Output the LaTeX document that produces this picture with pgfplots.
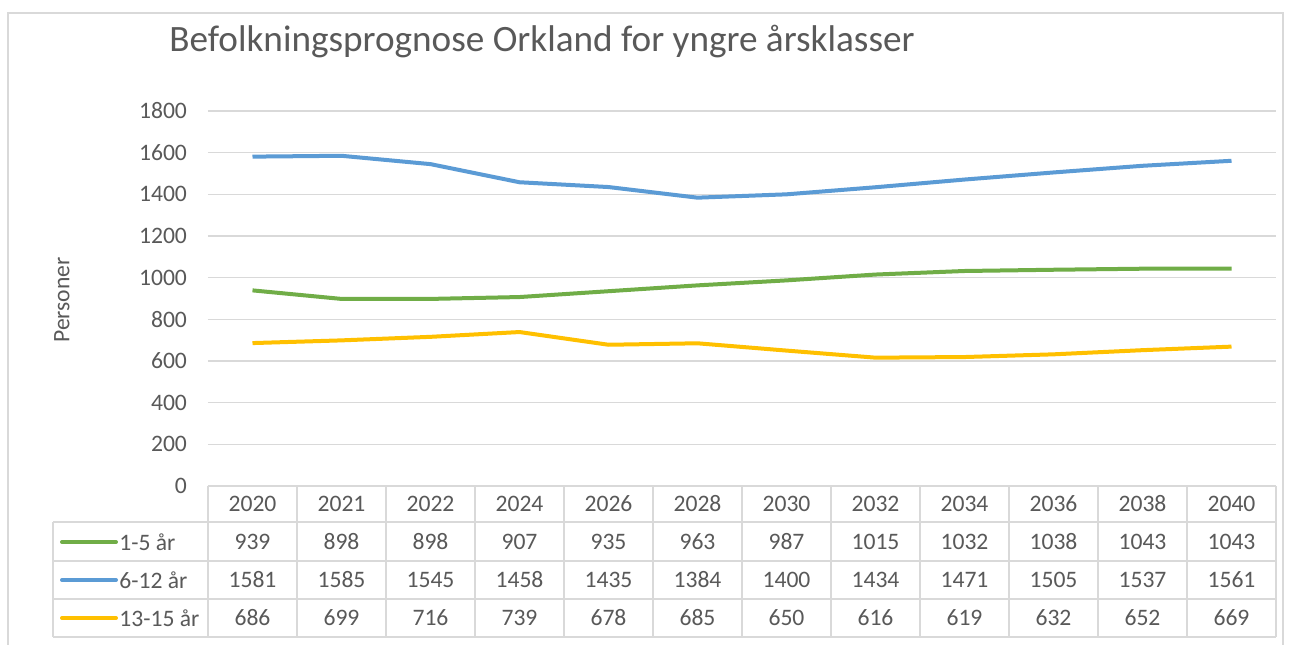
\documentclass[border=0pt]{standalone}
\usepackage{fontspec}
\setmainfont{Carlito}
\usepackage{pgfplots}
\pgfplotsset{compat=1.18}
\definecolor{cgreen}{HTML}{70AD47}
\definecolor{cblue}{HTML}{5B9BD5}
\definecolor{cyellow}{HTML}{FFC000}
\definecolor{txt}{HTML}{595959}
\definecolor{gridc}{HTML}{D9D9D9}
\definecolor{framec}{HTML}{D9D9D9}

\begin{document}
\begin{tikzpicture}[x=0.5pt,y=0.5pt]
\clip (0,0) rectangle (1292,644);
\fill[white] (0,0) rectangle (1292,644);
\draw[line width=1pt, framec] (8,631) rectangle (1283,-20);
\node[font=\fontsize{18.6}{22}\selectfont, text=txt] at (542,602) {Befolkningsprognose Orkland for yngre årsklasser};
\node[rotate=90, font=\fontsize{11.8}{14}\selectfont, text=txt] at (62,344) {Personer};

\begin{axis}[
    at={(104pt,79pt)}, anchor=south west,
    width=534pt, height=187.5pt, scale only axis,
    xmin=-0.5, xmax=11.5, ymin=0, ymax=1800,
    ytick={0,200,...,1800}, xtick=\empty,
    axis line style={draw=none},
    ymajorgrids, grid style={gridc, line width=0.75pt},
    major tick length=0pt,
    yticklabel style={font=\fontsize{11.8}{14}\selectfont, text=txt, xshift=-7pt},
    /pgf/number format/assume math mode=true,
    /pgf/number format/set thousands separator={},
    clip=false,
]
\addplot[cgreen, line width=2pt, line join=round] coordinates {
    (0,939)(1,898)(2,898)(3,907)(4,935)(5,963)(6,987)(7,1015)(8,1032)(9,1038)(10,1043)(11,1043)
};
\addplot[cblue, line width=2pt, line join=round] coordinates {
    (0,1581)(1,1585)(2,1545)(3,1458)(4,1435)(5,1384)(6,1400)(7,1434)(8,1471)(9,1505)(10,1537)(11,1561)
};
\addplot[cyellow, line width=2pt, line join=round] coordinates {
    (0,686)(1,699)(2,716)(3,739)(4,678)(5,685)(6,650)(7,616)(8,619)(9,632)(10,652)(11,669)
};
\end{axis}

% data table under the chart
\begin{scope}[gridc, line width=1pt]
  \draw (208,158) -- (1276,158);
  \foreach \yy in {122,83,45,7} \draw (53,\yy) -- (1276,\yy);
  \draw (53,122) -- (53,7);
  \foreach \i in {0,...,12} \draw (208+89*\i,158) -- (208+89*\i,7);
\end{scope}
\begin{scope}[font=\fontsize{11.8}{14}\selectfont, text=txt]
  \foreach \v [count=\i from 0] in {2020,2021,2022,2024,2026,2028,2030,2032,2034,2036,2038,2040}
    \node at (252.5+89*\i,140) {\v};
  \foreach \v [count=\i from 0] in {939,898,898,907,935,963,987,1015,1032,1038,1043,1043}
    \node at (252.5+89*\i,102) {\v};
  \foreach \v [count=\i from 0] in {1581,1585,1545,1458,1435,1384,1400,1434,1471,1505,1537,1561}
    \node at (252.5+89*\i,64) {\v};
  \foreach \v [count=\i from 0] in {686,699,716,739,678,685,650,616,619,632,652,669}
    \node at (252.5+89*\i,26) {\v};
  \draw[cgreen, line width=2pt, line cap=round] (62,102) -- (116,102);
  \draw[cblue, line width=2pt, line cap=round] (62,64) -- (116,64);
  \draw[cyellow, line width=2pt, line cap=round] (62,26) -- (116,26);
  \node[anchor=west, inner sep=0pt] at (119,102) {1-5 år};
  \node[anchor=west, inner sep=0pt] at (119,64) {6-12 år};
  \node[anchor=west, inner sep=0pt] at (119,26) {13-15 år};
\end{scope}
\end{tikzpicture}
\end{document}
